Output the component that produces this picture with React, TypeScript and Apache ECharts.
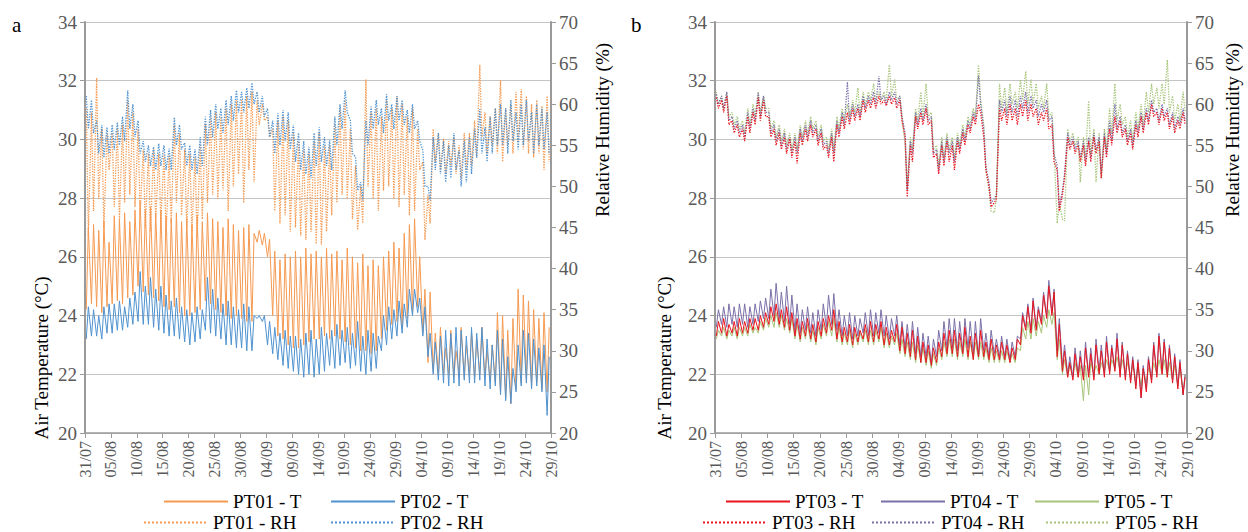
import React, { useEffect, useRef } from "react";
import * as echarts from "echarts";

const FONT = "Liberation Serif";

// x axis: days since 31/07 (0..90), one tick label every 5 days
const X_TICKS = ["31/07","05/08","10/08","15/08","20/08","25/08","30/08","04/09","09/09","14/09","19/09","24/09","29/09","04/10","09/10","14/10","19/10","24/10","29/10"];
const T_TICKS = { min: 20, max: 34, interval: 2 };
const RH_TICKS = { min: 20, max: 70, interval: 5 };

// ---------- Panel a ----------
// PT01 air temperature: daily minimum (morning) and maximum (afternoon), °C
const pt01T_lo = [24.2,24.4,24.3,24.1,24.3, 24.4,24.5,24.4,24.6,24.7, 25.0,24.8,24.7,24.6,24.5, 24.3,24.2,24.3,24.1,24.0, 24.0,24.1,24.2,24.5,24.4, 24.2,24.1,24.0,23.9,24.0, 23.9,23.8,23.8,26.5,26.4, 26.0,24.0,23.3,23.2,23.0, 22.9,22.9,23.0,23.1,23.2, 23.2,23.3,23.2,23.3,23.2, 23.1,23.0,22.9,22.8,22.8, 22.7,22.8,23.2,23.5,23.7, 23.8,23.6,23.9,24.1,24.3, 23.4,22.4,22.1,22.0,22.0, 22.0,21.9,22.0,21.9,22.0, 21.9,22.0,21.9,21.8,21.7, 21.4,21.2,21.0,21.5,21.7, 21.8,21.6,21.7,21.5,21.4];
const pt01T_hi = [27.0,27.1,26.9,27.2,26.5, 27.4,27.3,27.5,27.2,27.6, 27.9,27.6,27.7,27.5,27.6, 27.4,27.3,27.5,27.2,27.3, 27.1,27.4,27.2,27.5,27.3, 27.2,27.0,27.3,27.1,26.9, 27.0,27.1,26.8,26.9,26.8, 26.6,26.2,25.9,26.1,26.0, 26.2,26.0,26.3,26.1,26.2, 26.0,26.3,26.1,26.2,25.9, 26.3,26.0,25.8,26.1,25.7, 25.9,25.7,26.0,26.2,26.5, 26.3,26.8,27.1,27.3,26.0, 24.9,24.8,23.4,23.6,22.9, 23.5,22.8,23.6,23.0,23.4, 23.2,23.6,22.8,23.0,24.1, 24.0,23.5,23.9,24.9,24.7, 24.5,24.2,23.9,24.1,23.6];
// PT02 air temperature
const pt02T_lo = [23.2,23.3,23.3,23.2,23.4, 23.4,23.5,23.5,23.6,23.7, 23.8,23.7,23.7,23.6,23.5, 23.4,23.3,23.3,23.2,23.1, 23.0,23.1,23.2,23.5,23.4, 23.3,23.2,23.0,23.0,22.9, 22.9,22.8,22.8,23.9,23.8, 23.0,22.7,22.5,22.3,22.2, 22.1,22.0,21.9,22.0,21.9, 22.0,22.1,22.3,22.2,22.3, 22.4,22.2,22.3,22.1,22.0, 22.1,22.2,22.8,23.0,23.2, 23.3,23.4,23.6,24.0,24.1, 23.3,22.6,22.0,21.8,21.7, 21.6,21.7,21.6,21.8,21.7, 21.7,21.8,21.6,21.5,21.6, 21.3,21.1,21.0,21.4,21.6, 21.7,21.5,21.6,21.4,20.6];
const pt02T_hi = [24.3,24.2,24.0,24.3,24.4, 24.4,24.5,24.3,24.6,24.8, 25.5,25.0,25.3,24.9,25.0, 24.7,24.5,24.6,24.3,24.2, 24.1,24.3,24.2,25.3,24.9, 24.6,24.4,24.5,24.3,24.2, 24.4,24.3,24.0,24.0,24.0, 23.8,23.6,23.4,23.5,23.3, 23.3,23.2,23.4,23.5,23.2, 23.6,23.4,23.5,23.7,23.5, 23.6,23.4,23.8,23.3,23.5, 23.4,23.3,24.0,24.3,24.2, 24.5,24.4,24.9,24.9,24.6, 24.3,23.4,23.1,23.3,23.5, 23.4,23.6,23.5,23.3,23.6, 23.4,23.6,23.2,23.0,23.5, 23.2,22.6,22.2,23.0,23.5, 23.4,23.2,22.9,23.0,22.6];
// PT01 relative humidity: daily maximum (night) and minimum (afternoon), %
const pt01RH_hi = [59.5,59.0,63.2,57.0,56.5, 56.5,57.0,57.5,60.5,59.0, 57.0,54.5,54.0,54.5,54.0, 54.0,53.8,57.5,56.5,54.5, 54.0,53.5,55.0,57.5,58.5, 59.0,58.5,59.5,60.0,60.5, 60.5,61.0,61.5,60.5,60.0, 58.5,57.0,58.0,58.5,58.0, 56.5,55.5,54.5,54.0,55.5, 56.5,55.0,55.0,57.5,59.5, 60.5,57.0,52.5,50.0,63.0, 59.0,59.5,58.5,60.5,59.5, 61.0,60.0,58.5,59.5,57.0, 53.0,49.0,57.0,56.5,55.8, 55.5,56.0,55.0,56.5,56.5, 58.0,64.8,59.0,58.5,59.5, 62.9,59.5,60.0,61.5,61.8, 61.0,60.0,60.5,59.8,61.0];
const pt01RH_lo = [44.0,47.0,48.5,45.0,52.0, 47.5,46.0,48.0,49.0,47.5, 46.5,45.0,44.5,46.0,45.5, 44.0,45.5,48.0,46.5,45.0, 44.5,43.8,46.0,48.0,49.0, 48.5,49.5,47.0,50.0,51.5, 48.0,52.0,50.5,57.5,58.0, 56.0,47.0,45.5,46.5,44.5, 45.0,44.0,43.5,44.5,43.0, 42.9,44.5,46.5,48.0,49.0, 48.5,46.0,44.7,45.5,50.0, 48.5,47.0,49.5,50.0,48.5, 47.5,49.0,46.5,47.0,52.0, 43.5,45.5,53.0,52.0,51.5, 52.5,51.5,51.0,52.0,52.5, 53.5,56.0,54.0,55.0,54.0, 53.0,55.0,54.0,55.5,54.5, 54.0,53.5,54.0,52.0,53.0];
// PT02 relative humidity
const pt02RH_hi = [61.0,60.5,58.0,57.5,57.2, 57.5,57.8,58.5,61.7,60.0, 58.0,55.5,55.0,54.8,55.2, 55.0,54.6,58.4,57.5,55.3, 55.0,54.5,56.0,58.5,59.3, 60.0,59.5,60.5,61.0,61.7, 61.5,62.0,62.6,61.5,61.0, 59.5,58.0,58.9,59.3,59.0, 57.5,56.5,55.5,54.8,56.5, 57.2,56.0,55.6,58.5,60.0, 61.7,58.0,53.6,50.5,58.0, 59.7,60.5,59.5,61.2,60.0, 61.0,60.5,59.3,60.0,58.0, 54.4,50.0,56.0,56.5,55.5, 55.0,56.5,54.4,55.5,56.0, 57.0,59.4,57.2,58.5,59.5, 60.0,59.5,60.5,59.0,60.0, 60.5,59.0,60.0,59.5,59.0];
const pt02RH_lo = [57.0,56.5,54.0,53.5,54.0, 54.5,55.0,55.5,57.0,56.0, 54.0,53.0,52.5,52.0,52.5, 52.0,52.0,55.0,54.5,52.5, 52.0,51.5,52.5,55.0,56.0, 57.0,56.5,57.5,58.0,59.0, 59.0,59.5,60.0,59.0,58.5, 56.0,54.0,55.0,55.5,54.5, 53.0,52.0,51.5,51.0,52.5, 53.0,52.5,52.0,55.0,57.0, 59.0,54.0,49.5,48.3,55.0, 57.0,57.5,56.5,58.0,57.0, 58.0,57.5,56.5,57.0,55.5, 50.0,48.3,52.0,51.5,50.5, 51.0,52.0,50.0,50.5,51.5, 53.5,54.0,53.0,54.0,55.0, 55.0,54.0,55.5,54.5,55.0, 55.5,54.0,55.0,54.5,54.0];

// ---------- Panel b ----------
const pt03T_lo = [23.3,23.4,23.3,23.4,23.3, 23.4,23.4,23.5,23.5,23.6, 23.7,23.8,23.7,23.6,23.5, 23.3,23.2,23.3,23.2,23.1, 23.3,23.4,23.5,23.2,23.1, 23.1,23.0,23.1,23.2,23.1, 23.1,23.2,23.0,23.0,23.1, 22.8,22.7,22.6,22.5,22.4, 22.4,22.3,22.4,22.6,22.7, 22.7,22.6,22.7,22.6,22.5, 22.6,22.6,22.5,22.5,22.5, 22.5,22.4,22.5,23.0,23.5, 23.4,23.5,23.7,23.9,24.0, 22.6,22.1,21.9,21.8,21.9, 21.8,21.9,21.8,22.0,21.9, 22.0,22.1,21.9,21.8,21.7, 21.5,21.2,21.4,21.7,21.9, 22.0,21.9,21.7,21.5,21.3];
const pt03T_hi = [23.8,23.9,23.7,23.8,23.9, 23.8,23.9,23.9,24.0,24.1, 24.3,24.4,24.2,24.3,24.1, 23.9,23.8,23.9,23.7,23.8, 23.9,24.0,24.2,23.8,23.6, 23.7,23.6,23.5,23.7,23.8, 23.7,23.8,23.6,23.5,23.7, 23.6,23.4,23.5,23.3,23.1, 23.0,22.9,23.1,23.4,23.5, 23.5,23.4,23.6,23.3,23.4, 23.5,23.1,23.2,23.0,23.1, 23.0,22.9,23.2,24.0,24.3, 24.5,24.2,24.7,25.0,24.8, 23.7,22.8,22.4,22.7,22.6, 22.9,22.7,23.0,22.8,23.1, 22.9,23.2,23.0,22.7,22.5, 22.4,22.2,22.5,23.0,23.3, 23.1,22.9,22.6,22.4,21.9];
const pt04T_lo = [23.6,23.7,23.6,23.7,23.6, 23.7,23.6,23.7,23.8,23.9, 23.9,24.0,23.9,23.8,23.7, 23.5,23.4,23.5,23.4,23.3, 23.5,23.6,23.7,23.5,23.3, 23.3,23.2,23.3,23.4,23.3, 23.3,23.4,23.3,23.2,23.3, 23.0,22.9,22.8,22.7,22.6, 22.6,22.4,22.6,22.8,22.9, 22.9,22.8,22.8,22.9,22.7, 22.6,22.8,22.6,22.7,22.6, 22.6,22.5,22.6,23.2,23.6, 23.5,23.6,23.8,24.0,24.1, 22.8,22.3,22.0,21.9,22.0, 21.9,22.0,21.9,22.1,22.0, 22.1,22.2,22.0,21.9,21.8, 21.6,21.2,21.5,21.8,22.0, 22.1,22.0,21.8,21.6,21.3];
const pt04T_hi = [24.2,24.3,24.4,24.3,24.4, 24.4,24.3,24.4,24.5,24.6, 24.9,25.1,24.8,25.0,24.7, 24.4,24.2,24.3,24.1,24.2, 24.4,24.7,24.75,24.2,24.0, 24.1,24.0,23.9,24.1,24.2, 24.1,24.2,24.0,23.9,24.0, 23.8,23.7,23.8,23.6,23.4, 23.3,23.2,23.5,23.8,23.9, 23.9,23.8,23.9,23.8,23.8, 23.9,23.4,23.5,23.2,23.3, 23.2,23.1,23.3,24.1,24.4, 24.6,24.3,24.8,25.2,24.9, 23.9,23.0,22.6,22.9,22.8, 23.1,22.9,23.2,23.0,23.3, 23.0,23.4,23.1,22.8,22.6, 22.5,22.3,22.6,23.1,23.4, 23.2,23.0,22.7,22.5,22.0];
const pt05T_lo = [23.2,23.3,23.2,23.3,23.2, 23.3,23.3,23.4,23.4,23.5, 23.6,23.6,23.6,23.5,23.4, 23.2,23.1,23.2,23.1,23.0, 23.2,23.3,23.3,23.1,23.0, 23.0,22.9,23.0,23.1,23.0, 23.0,23.1,22.9,22.9,23.0, 22.7,22.6,22.5,22.4,22.4, 22.3,22.2,22.3,22.5,22.6, 22.6,22.5,22.6,22.5,22.5, 22.5,22.5,22.4,22.4,22.4, 22.4,22.4,22.4,22.8,23.2, 23.2,23.3,23.4,23.6,23.7, 22.5,22.0,21.9,21.9,21.9, 21.1,21.3,22.0,22.0,22.1, 22.1,22.2,22.1,22.0,21.9, 21.8,21.6,21.7,21.9,22.0, 22.0,21.9,21.8,21.6,21.4];
const pt05T_hi = [23.5,23.6,23.5,23.6,23.6, 23.6,23.7,23.6,23.8,23.9, 24.0,24.1,24.0,23.9,23.9, 23.7,23.6,23.7,23.5,23.6, 23.7,23.8,23.9,23.6,23.4, 23.5,23.4,23.4,23.5,23.5, 23.5,23.6,23.4,23.3,23.4, 23.2,23.1,23.1,23.0,22.9, 22.8,22.7,22.9,23.1,23.2, 23.2,23.1,23.2,23.1,23.1, 23.1,22.9,22.9,22.8,22.8, 22.8,22.7,22.9,23.6,23.8, 23.9,23.8,24.0,24.2,24.1, 23.2,22.5,22.3,22.4,22.3, 22.3,22.4,22.3,22.4,22.5, 22.5,22.6,22.5,22.4,22.3, 22.3,22.2,22.2,22.4,22.5, 22.5,22.4,22.3,22.2,22.0];
const pt03RH_hi = [60.8,60.5,61.0,58.0,57.5, 57.0,58.5,59.0,60.8,60.5, 58.5,57.0,56.5,56.0,55.8, 55.5,56.5,57.0,57.5,57.0, 56.5,55.0,56.0,57.5,58.5, 59.0,59.5,59.5,60.5,60.5, 60.8,61.0,60.5,61.0,60.8, 60.5,56.0,55.0,58.5,59.0, 59.5,58.0,54.0,55.0,55.5, 55.0,55.5,56.5,57.5,58.5, 60.0,56.0,50.0,48.0,59.5, 59.5,60.0,59.5,60.0,60.5, 60.0,59.5,59.0,59.5,57.5, 52.0,49.0,56.0,55.5,55.0, 55.0,55.5,56.0,55.5,56.0, 57.0,58.5,58.0,57.0,56.5, 57.5,58.5,59.0,60.0,59.0, 59.5,59.0,58.5,58.0,59.0];
const pt03RH_lo = [59.5,59.0,57.5,56.5,56.0, 55.5,56.5,57.5,58.0,58.5, 56.0,55.0,54.5,54.0,53.5, 52.8,55.0,55.5,56.0,55.0, 54.5,53.5,53.0,56.0,57.0, 57.5,58.0,58.0,59.0,59.5, 59.5,60.0,59.8,60.0,59.5, 58.0,48.7,53.0,57.0,57.5, 57.5,53.5,51.5,52.5,53.0, 52.0,54.0,55.0,56.5,57.5, 59.0,52.0,47.5,48.5,58.0, 57.5,58.0,57.5,58.5,58.0, 58.5,57.5,58.0,57.0,53.0, 47.0,51.0,54.5,54.0,53.0, 52.5,53.0,54.0,51.0,53.5, 55.0,56.5,56.0,55.0,54.5, 56.0,56.5,57.5,58.5,57.5, 58.0,57.0,56.5,57.0,57.5];
const pt04RH_hi = [61.2,61.0,61.5,58.5,58.0, 57.5,59.0,59.5,61.4,61.0, 59.0,57.5,57.0,56.5,56.0, 56.0,57.0,57.5,58.0,57.5, 57.0,55.5,56.5,58.0,59.0, 62.7,60.0,60.0,61.0,61.0, 61.5,63.4,61.0,61.5,61.5, 61.0,56.5,55.5,59.0,59.5, 60.0,58.5,54.5,55.5,56.0, 55.5,56.0,57.0,58.0,59.0, 63.5,57.0,50.5,48.5,60.5, 60.5,61.0,60.5,61.0,61.5, 61.0,60.5,60.0,60.5,58.5, 52.5,49.5,56.5,56.0,55.5, 55.5,56.0,56.5,56.0,56.5, 58.0,60.0,58.5,57.5,57.0, 58.0,59.0,59.5,60.5,59.5, 60.0,59.5,59.0,58.5,59.5];
const pt04RH_lo = [60.0,59.5,58.0,57.0,56.5, 56.0,57.0,58.0,58.5,59.0, 56.5,55.5,55.0,54.5,54.0, 54.0,55.5,56.0,56.5,55.5, 55.0,54.0,54.0,56.5,57.5, 58.0,58.5,58.5,59.5,60.0, 60.0,60.5,60.0,60.5,60.0, 58.5,49.5,54.0,57.5,58.0, 58.0,54.0,52.0,53.0,54.0, 53.0,54.5,55.5,57.0,58.0, 60.0,52.5,48.0,49.0,59.0, 58.5,59.0,58.5,59.5,59.0, 59.5,58.5,59.0,58.0,54.0, 47.5,51.5,55.0,54.5,53.5, 53.0,53.5,54.5,51.5,54.0, 55.5,57.0,56.5,55.5,55.0, 56.5,57.0,58.0,59.0,58.0, 58.5,57.5,57.0,57.5,58.0];
const pt05RH_hi = [61.5,61.0,61.4,59.0,58.5, 58.0,59.5,60.0,61.5,61.0, 59.5,58.0,57.5,57.0,56.5, 56.5,57.5,58.0,58.5,58.0, 57.5,56.0,57.0,58.5,59.5, 60.0,60.5,62.0,61.5,61.5, 62.5,61.5,61.5,64.8,63.0, 61.0,55.0,56.0,59.5,61.5, 62.5,59.0,55.0,56.0,56.5, 56.0,56.5,57.5,58.5,59.5, 64.8,57.5,49.5,46.8,62.5, 62.0,62.5,61.5,63.0,64.0, 63.0,62.5,61.0,62.5,59.0, 45.5,46.0,57.0,56.5,56.0, 56.0,60.4,57.0,56.5,57.0, 59.5,62.5,60.0,58.5,58.0, 59.0,60.0,61.5,62.5,62.0, 62.5,65.4,61.0,60.0,61.5];
const pt05RH_lo = [60.0,59.5,58.5,57.5,57.0, 56.5,57.5,58.5,59.0,59.5, 57.0,56.0,55.5,55.0,54.5, 54.5,56.0,56.5,57.0,56.0, 55.5,54.5,54.5,57.0,58.0, 58.5,59.0,59.0,60.0,60.5, 60.5,60.5,60.5,61.0,60.5, 58.5,50.0,54.5,58.0,58.5, 58.5,54.5,52.5,53.5,54.5, 53.5,55.0,56.0,57.5,58.5, 60.5,52.0,47.0,48.5,59.5, 59.0,60.0,59.5,60.5,60.0, 60.0,59.5,59.5,58.5,54.5, 48.0,45.8,55.5,55.0,50.5, 53.5,54.0,50.5,51.0,54.5, 56.5,58.0,57.5,56.0,55.5, 57.0,57.5,59.0,60.0,59.5, 60.0,59.0,58.0,58.0,59.0];

// two readings per day: early morning and mid-afternoon
const dayPts = (first: number[], second: number[]) =>
  first.flatMap((v, i) => [[i + 0.25, v], [i + 0.65, second[i]]]);

const C = {
  pt01: "#F59A52",
  pt02: "#4F92CF",
  pt03: "#E8141E",
  pt04: "#7C70A8",
  pt05: "#A8C47A",
};

function lineSeries(name: string, color: string, data: number[][], xi: number, yi: number, dotted: boolean) {
  return {
    name,
    type: "line",
    xAxisIndex: xi,
    yAxisIndex: yi,
    data,
    symbol: "none",
    showSymbol: false,
    color,
    lineStyle: { color, width: dotted ? 1.3 : 1, type: dotted ? "dotted" : "solid" },
  };
}

const AXIS_COLOR = "#9a9a9a";

function xAxis(gridIndex: number) {
  return {
    type: "value",
    gridIndex,
    min: 0,
    max: 90,
    interval: 5,
    axisLine: { show: true, onZero: false, lineStyle: { color: AXIS_COLOR, width: 1.5 } },
    axisTick: { show: true, length: 5 },
    splitLine: { show: false },
    axisLabel: {
      rotate: 90,
      fontFamily: FONT,
      fontSize: 16,
      color: "#595959",
      formatter: (v: number) => X_TICKS[Math.round(v / 5)] ?? "",
    },
  };
}

function yAxis(gridIndex: number, position: "left" | "right", t: { min: number; max: number; interval: number }, grid: boolean) {
  return {
    type: "value",
    gridIndex,
    position,
    min: t.min,
    max: t.max,
    interval: t.interval,
    axisLine: { show: true, lineStyle: { color: AXIS_COLOR, width: 2 } },
    axisTick: { show: true, length: 5 },
    splitLine: { show: grid, lineStyle: { color: "#c4c4c4", width: 1 } },
    axisLabel: { fontFamily: FONT, fontSize: 19, color: "#595959" },
  };
}

function legendItem(name: string, left: number, top: number) {
  return {
    data: [name],
    left,
    top,
    padding: 0,
    itemWidth: 64,
    itemHeight: 12,
    itemGap: 0,
    selectedMode: false,
    itemStyle: { opacity: 0 },
    textStyle: { fontFamily: FONT, fontSize: 19, color: "#000" },
  };
}

function vText(text: string, x: number, y: number) {
  return {
    type: "text",
    x,
    y,
    rotation: Math.PI / 2,
    style: { text, fontFamily: FONT, fontSize: 19, fill: "#000", align: "center", verticalAlign: "middle" },
  };
}

function pText(text: string, x: number, y: number) {
  return {
    type: "text",
    x,
    y,
    style: { text, fontFamily: FONT, fontSize: 21, fill: "#000", align: "left", verticalAlign: "top" },
  };
}

export default function App() {
  const ref = useRef<HTMLDivElement>(null);
  useEffect(() => {
    if (!ref.current) return;
    const chart = echarts.init(ref.current, null, { renderer: "svg" });
    chart.setOption({
      animation: false,
      grid: [
        { left: 85, top: 22, width: 466, height: 411 },
        { left: 715, top: 22, width: 472, height: 411 },
      ],
      xAxis: [xAxis(0), xAxis(1)],
      yAxis: [
        yAxis(0, "left", T_TICKS, true),
        yAxis(0, "right", RH_TICKS, false),
        yAxis(1, "left", T_TICKS, true),
        yAxis(1, "right", RH_TICKS, false),
      ],
      legend: [
        legendItem("PT01 - T", 163, 492),
        legendItem("PT02 - T", 330, 492),
        legendItem("PT01 - RH", 143, 513),
        legendItem("PT02 - RH", 330, 513),
        legendItem("PT03 - T", 725, 492),
        legendItem("PT04 - T", 880, 492),
        legendItem("PT05 - T", 1034, 492),
        legendItem("PT03 - RH", 702, 513),
        legendItem("PT04 - RH", 871, 513),
        legendItem("PT05 - RH", 1045, 513),
      ],
      series: [
        lineSeries("PT01 - T", C.pt01, dayPts(pt01T_lo, pt01T_hi), 0, 0, false),
        lineSeries("PT02 - T", C.pt02, dayPts(pt02T_lo, pt02T_hi), 0, 0, false),
        lineSeries("PT01 - RH", C.pt01, dayPts(pt01RH_hi, pt01RH_lo), 0, 1, true),
        lineSeries("PT02 - RH", C.pt02, dayPts(pt02RH_hi, pt02RH_lo), 0, 1, true),
        lineSeries("PT05 - T", C.pt05, dayPts(pt05T_lo, pt05T_hi), 1, 2, false),
        lineSeries("PT04 - T", C.pt04, dayPts(pt04T_lo, pt04T_hi), 1, 2, false),
        lineSeries("PT03 - T", C.pt03, dayPts(pt03T_lo, pt03T_hi), 1, 2, false),
        lineSeries("PT05 - RH", C.pt05, dayPts(pt05RH_hi, pt05RH_lo), 1, 3, true),
        lineSeries("PT04 - RH", C.pt04, dayPts(pt04RH_hi, pt04RH_lo), 1, 3, true),
        lineSeries("PT03 - RH", C.pt03, dayPts(pt03RH_hi, pt03RH_lo), 1, 3, true),
      ],
      graphic: [
        pText("a", 12, 14),
        pText("b", 631, 14),
        vText("Air Temperature (°C)", 41, 358),
        vText("Relative Humidity (%)", 602, 130),
        vText("Air Temperature (°C)", 664, 358),
        vText("Relative Humidity (%)", 1232, 130),
      ],
    });
    return () => chart.dispose();
  }, []);
  return <div ref={ref} style={{ position: "absolute", left: 0, top: 0, width: 1248, height: 532 }} />;
}
